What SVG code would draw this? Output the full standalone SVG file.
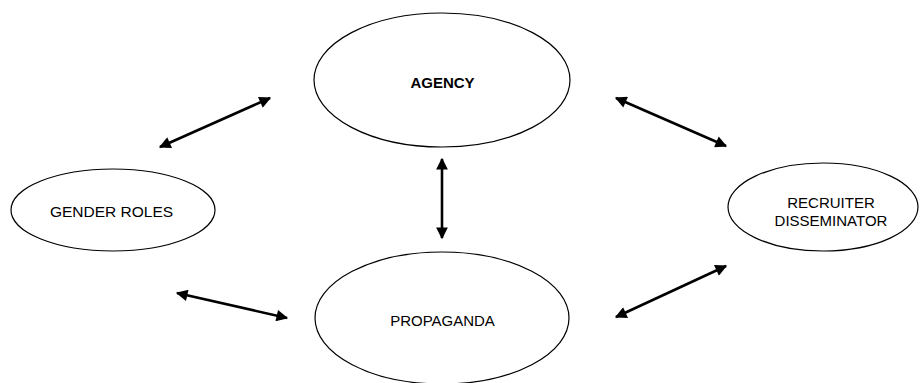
<svg xmlns="http://www.w3.org/2000/svg" width="920" height="383" viewBox="0 0 920 383">
<defs>
<marker id="ah" viewBox="0 0 10 10" refX="9" refY="5" markerWidth="5" markerHeight="4.5" markerUnits="strokeWidth" orient="auto-start-reverse">
<path d="M0,0 L10,5 L0,10 Z" fill="#000"/>
</marker>
</defs>
<style>
.n{fill:#fff;stroke:#000;stroke-width:1.2}
.t{font-family:"Liberation Sans",Arial,sans-serif;font-size:15px;fill:#000;text-anchor:middle}
.b{font-weight:bold}
.c{stroke:#000;stroke-width:2.6;fill:none;marker-start:url(#ah);marker-end:url(#ah)}
</style>
<rect width="920" height="383" fill="#fff"/>
<g id="agency">
<ellipse class="n" cx="442" cy="80" rx="128" ry="67"/>
<text class="t b" x="442.5" y="88">AGENCY</text>
</g>
<g id="gender-roles">
<ellipse class="n" cx="113" cy="210" rx="102" ry="41"/>
<text class="t" x="111.5" y="217" style="font-size:15.5px">GENDER ROLES</text>
</g>
<g id="recruiter">
<ellipse class="n" cx="823" cy="207" rx="95" ry="44"/>
<text class="t" x="831" y="208">RECRUITER</text>
<text class="t" x="831" y="226">DISSEMINATOR</text>
</g>
<g id="propaganda">
<ellipse class="n" cx="442" cy="318" rx="127" ry="66"/>
<text class="t" x="442.5" y="326">PROPAGANDA</text>
</g>
<g id="connectors">
<line class="c" x1="160" y1="147" x2="270" y2="98"/>
<line class="c" x1="616" y1="98" x2="726" y2="146"/>
<line class="c" x1="442" y1="159" x2="442" y2="238"/>
<line class="c" x1="177" y1="293" x2="287" y2="318"/>
<line class="c" x1="616" y1="317" x2="726" y2="266"/>
</g>
</svg>
